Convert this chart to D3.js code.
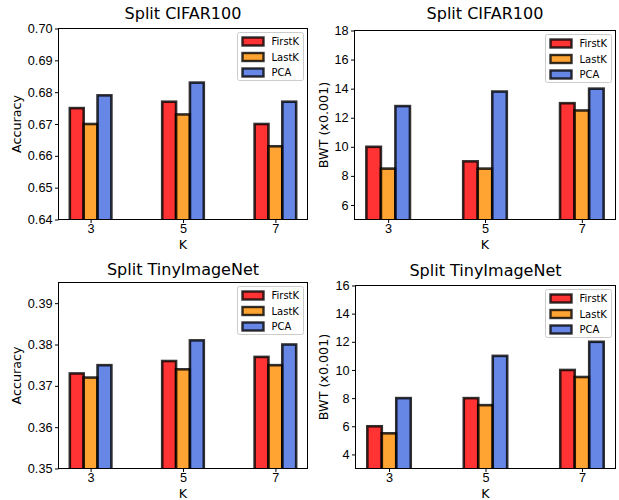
<!DOCTYPE html>
<html>
<head>
<meta charset="utf-8">
<script src="https://cdn.jsdelivr.net/npm/d3@7"></script>
<style>
  body { margin: 0; background: #fff; }
  svg { display: block; font-family: "DejaVu Sans", sans-serif; }
  .tick text { font-size: 12.7px; fill: #000; }
  .tick line { stroke: #000; }
</style>
</head>
<body>
<div id="chart"></div>
<script>

// categories and series
var kLabels = ["3", "5", "7"];
var methods = ["FirstK", "LastK", "PCA"];
var methodColors = ["#ff0000", "#ff8c00", "#4169e1"];

// values, one row per method (FirstK, LastK, PCA)
var cifarAccuracy = [[0.675, 0.677, 0.670], [0.670, 0.673, 0.663], [0.679, 0.683, 0.677]];
var cifarBwt = [[10, 9, 13], [8.5, 8.5, 12.5], [12.8, 13.8, 14]];
var tinyAccuracy = [[0.373, 0.376, 0.377], [0.372, 0.374, 0.375], [0.375, 0.381, 0.380]];
var tinyBwt = [[6, 8, 10], [5.5, 7.5, 9.5], [8, 11, 12]];

// y ticks
var cifarAccTicks = [0.64, 0.65, 0.66, 0.67, 0.68, 0.69, 0.70];
var cifarBwtTicks = [6, 8, 10, 12, 14, 16, 18];
var tinyAccTicks = [0.35, 0.36, 0.37, 0.38, 0.39];
var tinyBwtTicks = [4, 6, 8, 10, 12, 14, 16];

var barWidth = 0.15;

var panels = [
  {title: "Split CIFAR100", ylabel: "Accuracy", data: cifarAccuracy, ydom: [0.64, 0.70], ticks: cifarAccTicks, fmt: d3.format(".2f"),
   left: 58.5, right: 307.5, top: 28.5, bottom: 219.5, titleY: 19, ylabX: 21, xlabY: 248.5},
  {title: "Split CIFAR100", ylabel: "BWT (x0.001)", data: cifarBwt, ydom: [5, 18], ticks: cifarBwtTicks, fmt: d3.format("d"),
   left: 354.5, right: 615.5, top: 30.5, bottom: 219.5, titleY: 19, ylabX: 327.5, xlabY: 248.5},
  {title: "Split TinyImageNet", ylabel: "Accuracy", data: tinyAccuracy, ydom: [0.35, 0.395], ticks: tinyAccTicks, fmt: d3.format(".2f"),
   left: 58.5, right: 307.5, top: 282.5, bottom: 468.5, titleY: 274.5, ylabX: 21, xlabY: 497.5},
  {title: "Split TinyImageNet", ylabel: "BWT (x0.001)", data: tinyBwt, ydom: [3, 16], ticks: tinyBwtTicks, fmt: d3.format("d"),
   left: 355.5, right: 615.5, top: 285.5, bottom: 468.5, titleY: 275.5, ylabX: 328, xlabY: 497.5}
];

var svg = d3.select("#chart").append("svg")
    .attr("width", 619)
    .attr("height", 500);

panels.forEach(function(p, pi) {

  // matplotlib style x range: bars from -1.5w to 2+1.5w plus 5% margins
  var lo = -1.5 * barWidth, hi = (kLabels.length - 1) + 1.5 * barWidth;
  var pad = (hi - lo) * 0.05;
  var x = d3.scaleLinear().domain([lo - pad, hi + pad]).range([p.left, p.right]);
  var y = d3.scaleLinear().domain(p.ydom).range([p.bottom, p.top]);

  var g = svg.append("g");

  // clip bars to the plot area
  g.append("clipPath").attr("id", "clip" + pi)
    .append("rect")
      .attr("x", p.left).attr("y", p.top)
      .attr("width", p.right - p.left).attr("height", p.bottom - p.top);

  var bars = g.append("g").attr("clip-path", "url(#clip" + pi + ")");

  methods.forEach(function(m, mi) {
    bars.selectAll(".bar" + mi)
      .data(p.data[mi])
      .enter()
      .append("rect")
        .attr("x", function(d, i) { return x(i + (mi - 1) * barWidth - barWidth / 2); })
        .attr("width", function() { return x(barWidth) - x(0); })
        .attr("y", function(d) { return y(d); })
        .attr("height", function(d) { return p.bottom + 5 - y(d); })
        .attr("fill", methodColors[mi])
        .attr("fill-opacity", 0.8)
        .attr("stroke", "#000")
        .attr("stroke-opacity", 0.8)
        .attr("stroke-width", 2.6);
  });

  // spines
  g.append("rect")
    .attr("x", p.left).attr("y", p.top)
    .attr("width", p.right - p.left).attr("height", p.bottom - p.top)
    .attr("fill", "none")
    .attr("stroke", "#000")
    .attr("stroke-width", 1);

  // Y axis
  var yAxis = g.append("g")
    .attr("transform", "translate(" + p.left + ",0)")
    .call(d3.axisLeft(y).tickValues(p.ticks).tickFormat(p.fmt).tickSize(3.5).tickPadding(2.5));
  yAxis.select(".domain").remove();

  // X axis
  var xAxis = g.append("g")
    .attr("transform", "translate(0," + p.bottom + ")")
    .call(d3.axisBottom(x).tickValues(d3.range(kLabels.length))
      .tickFormat(function(d) { return kLabels[d]; })
      .tickSize(3.5).tickPadding(2.5));
  xAxis.select(".domain").remove();
  xAxis.selectAll("text").attr("dy", "0.62em");

  // title
  g.append("text")
    .attr("x", (p.left + p.right) / 2)
    .attr("y", p.titleY)
    .attr("text-anchor", "middle")
    .style("font-size", "16px")
    .text(p.title);

  // axis labels
  g.append("text")
    .attr("x", (p.left + p.right) / 2)
    .attr("y", p.xlabY)
    .attr("text-anchor", "middle")
    .style("font-size", "12.7px")
    .text("K");

  g.append("text")
    .attr("transform", "translate(" + p.ylabX + "," + (p.top + p.bottom) / 2 + ") rotate(-90)")
    .attr("text-anchor", "middle")
    .style("font-size", "12.7px")
    .text(p.ylabel);

  // legend, upper right
  var lw = 66, lh = 48;
  var lx = p.right - 4 - lw, ly = p.top + 4;
  var legend = g.append("g").attr("transform", "translate(" + lx + "," + ly + ")");
  legend.append("rect")
    .attr("width", lw).attr("height", lh)
    .attr("rx", 2)
    .attr("fill", "#fff").attr("fill-opacity", 0.8)
    .attr("stroke", "#cccccc").attr("stroke-width", 1);

  methods.forEach(function(m, mi) {
    var cy = 9 + mi * 15.5;
    legend.append("rect")
      .attr("x", 5).attr("y", cy - 4)
      .attr("width", 21).attr("height", 8)
      .attr("fill", methodColors[mi]).attr("fill-opacity", 0.8)
      .attr("stroke", "#000").attr("stroke-opacity", 0.8)
      .attr("stroke-width", 2.4);
    legend.append("text")
      .attr("x", 34).attr("y", cy)
      .attr("dy", "0.36em")
      .style("font-size", "10px")
      .text(m);
  });
});

</script>
</body>
</html>
